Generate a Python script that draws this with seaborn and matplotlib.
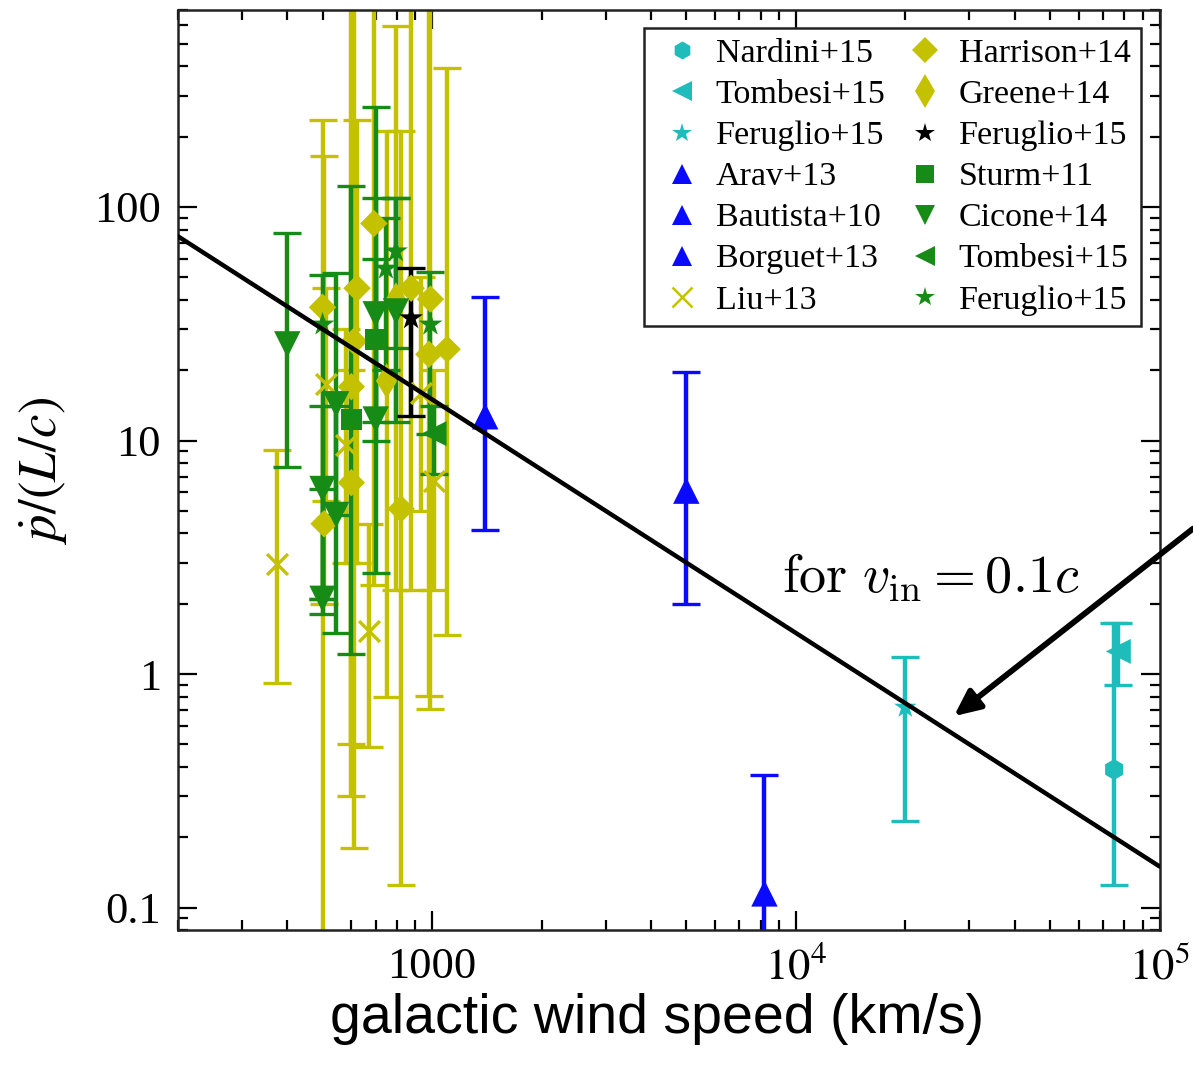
import numpy as np
import matplotlib
matplotlib.use("Agg")
import matplotlib.pyplot as plt
from matplotlib.lines import Line2D
from matplotlib.ticker import LogLocator, NullFormatter
import seaborn as sns

# ---------------- data: wind speed (km/s), momentum ratio, lower / upper bounds
nardini_v, nardini_p, nardini_lo, nardini_hi = [75000], [0.39], [0.125], [1.65]
tombesi_uf_v, tombesi_uf_p, tombesi_uf_lo, tombesi_uf_hi = [77000], [1.25], [0.90], [1.65]
feruglio_uf_v, feruglio_uf_p, feruglio_uf_lo, feruglio_uf_hi = [20000], [0.72], [0.235], [1.18]

arav_v, arav_p, arav_lo, arav_hi = [8200], [0.115], [0.03], [0.37]
bautista_v, bautista_p, bautista_lo, bautista_hi = [1400], [12.7], [4.15], [41.0]
borguet_v, borguet_p, borguet_lo, borguet_hi = [5000], [6.1], [2.0], [19.6]

liu_v = [375, 511, 580, 671, 1013, 930]
liu_p = [2.96, 17.4, 9.6, 1.53, 6.7, 16.0]
liu_lo = [0.915, 5.5, 3.0, 0.487, 2.3, 5.0]
liu_hi = [9.1, 45.0, 30.0, 4.4, 20.0, 50.0]

harrison_v = [500, 505, 600, 610, 622, 600, 692, 822, 876, 990, 980, 1100]
harrison_p = [37.2, 4.4, 17.0, 26.6, 44.9, 6.6, 85.0, 5.1, 44.9, 40.3, 23.4, 24.6]
harrison_lo = [0.05, 2.0, 0.30, 0.18, 3.0, 0.5, 2.4, 0.125, 2.3, 0.71, 0.805, 1.47]
harrison_hi = [235, 165, 2000, 2000, 235, 20.0, 2000, 211, 2000, 2000, 2000, 392]

greene_v = [796, 750]
greene_p = [40.0, 18.0]
greene_lo = [2.3, 0.8]
greene_hi = [598, 211]

feruglio_bk_v, feruglio_bk_p, feruglio_bk_lo, feruglio_bk_hi = [876], [33.4], [12.7], [55.0]

sturm_v = [600, 700]
sturm_p = [12.3, 27.1]
sturm_lo = [1.22, 10.0]
sturm_hi = [123, 60.0]

cicone_v = [400, 500, 500, 545, 545, 700, 700, 796]
cicone_p = [25.8, 6.2, 2.1, 14.3, 4.8, 12.3, 34.7, 35.7]
cicone_lo = [7.7, 2.1, 1.8, 4.8, 1.5, 2.7, 12.0, 12.0]
cicone_hi = [77.0, 14.0, 6.2, 52.0, 14.0, 269, 109, 109]

tombesi_g_v, tombesi_g_p, tombesi_g_lo, tombesi_g_hi = [1013], [10.7], [7.2], [14.0]

feruglio_g_v = [500, 747, 796, 990]
feruglio_g_p = [31.4, 54.5, 64.6, 31.4]
feruglio_g_lo = [2.1, 20.0, 25.0, 10.7]
feruglio_g_hi = [51.0, 90.0, 109, 52.5]

v_line = [200, 1e5]
line_k = 1.5e4  # energy-conserving scaling, p/(L/c) = K / v

# ---------------- style
sns.set_theme(style="ticks")
plt.rcParams["font.family"] = ["Liberation Serif", "DejaVu Serif"]
plt.rcParams["mathtext.fontset"] = "stix"
plt.rcParams["text.color"] = "black"
plt.rcParams["axes.labelcolor"] = "black"

CYAN = "#1fbcbc"
BLUE = "#0a0aff"
YEL = "#c4c200"
GRN = "#168c16"
BLK = "#000000"

fig = plt.figure(figsize=(11.93, 10.68), dpi=100)
ax = fig.add_axes([0.149, 0.129, 0.823, 0.862])
ax.set_xscale("log")
ax.set_yscale("log")

EB = dict(fmt="none", elinewidth=3.2, capsize=10, capthick=2.4)

groups = [
    # (v, p, lo, hi, color, marker, size, label)
    (liu_v, liu_p, liu_lo, liu_hi, YEL, "x", 15, "Liu+13"),
    (harrison_v, harrison_p, harrison_lo, harrison_hi, YEL, "D", 14, "Harrison+14"),
    (greene_v, greene_p, greene_lo, greene_hi, YEL, "d", 18, "Greene+14"),
    (sturm_v, sturm_p, sturm_lo, sturm_hi, GRN, "s", 15, "Sturm+11"),
    (cicone_v, cicone_p, cicone_lo, cicone_hi, GRN, "v", 19, "Cicone+14"),
    (tombesi_g_v, tombesi_g_p, tombesi_g_lo, tombesi_g_hi, GRN, "<", 18, "Tombesi+15"),
    (feruglio_g_v, feruglio_g_p, feruglio_g_lo, feruglio_g_hi, GRN, "*", 18, "Feruglio+15"),
    (feruglio_bk_v, feruglio_bk_p, feruglio_bk_lo, feruglio_bk_hi, BLK, "*", 18, "Feruglio+15"),
    (arav_v, arav_p, arav_lo, arav_hi, BLUE, "^", 19, "Arav+13"),
    (bautista_v, bautista_p, bautista_lo, bautista_hi, BLUE, "^", 19, "Bautista+10"),
    (borguet_v, borguet_p, borguet_lo, borguet_hi, BLUE, "^", 19, "Borguet+13"),
    (feruglio_uf_v, feruglio_uf_p, feruglio_uf_lo, feruglio_uf_hi, CYAN, "*", 17, "Feruglio+15"),
    (tombesi_uf_v, tombesi_uf_p, tombesi_uf_lo, tombesi_uf_hi, CYAN, "<", 18, "Tombesi+15"),
    (nardini_v, nardini_p, nardini_lo, nardini_hi, CYAN, "h", 15, "Nardini+15"),
]

legend_size = {"x": 15, "D": 13, "d": 17, "s": 13, "v": 15, "<": 15, "*": 15,
               "^": 15, "h": 13}

handles = {}
for i, (v, p, lo, hi, col, mk, ms, lab) in enumerate(groups):
    v = np.asarray(v, float)
    p = np.asarray(p, float)
    yerr = np.vstack([p - np.asarray(lo, float), np.asarray(hi, float) - p])
    ax.errorbar(v, p, yerr=yerr, ecolor=col, zorder=2 + i * 0.1, **EB)
    if mk == "x":
        sns.scatterplot(x=v, y=p, marker=mk, s=ms ** 2, color=col, linewidth=2.4,
                        ax=ax, zorder=3 + i * 0.1, legend=False)
    else:
        sns.scatterplot(x=v, y=p, marker=mk, s=ms ** 2, color=col, edgecolor="none",
                        ax=ax, zorder=3 + i * 0.1, legend=False)
    handles[(lab, col)] = Line2D([], [], ls="none", marker=mk, color=col,
                                 markersize=legend_size[mk],
                                 markeredgewidth=1.8 if mk == "x" else 0)

# theoretical relation
vl = np.logspace(np.log10(v_line[0]), np.log10(v_line[1]), 50)
sns.lineplot(x=vl, y=line_k / vl, color="black", linewidth=3.2, ax=ax, zorder=10)

ax.set_xlim(200, 1e5)
ax.set_ylim(0.08, 700)

# ticks
ax.set_xticks([1e3, 1e4, 1e5], ["1000", r"$10^4$", r"$10^5$"])
ax.set_yticks([0.1, 1, 10, 100], ["0.1", "1", "10", "100"])
ax.xaxis.set_minor_locator(LogLocator(base=10, subs=np.arange(2, 10)))
ax.yaxis.set_minor_locator(LogLocator(base=10, subs=np.arange(2, 10)))
ax.xaxis.set_minor_formatter(NullFormatter())
ax.yaxis.set_minor_formatter(NullFormatter())
ax.tick_params(which="both", direction="in", top=True, right=True, colors="black",
               width=1.6)
ax.tick_params(which="major", length=14, labelsize=32, pad=12)
ax.tick_params(which="minor", length=7)
for s in ax.spines.values():
    s.set_linewidth(1.8)
    s.set_color("#222222")

ax.set_xlabel("galactic wind speed (km/s)", fontsize=40, color="black",
              fontfamily=["Liberation Sans", "DejaVu Sans"], labelpad=6)
ax.xaxis.set_label_coords(0.488, -0.068)
ax.set_ylabel(r"$\dot{p}/(L/c)$", fontsize=38, color="black", labelpad=18)

# annotation with arrow
ax.text(2.35e4, 2.55, r"$\mathrm{for}\ v_{\rm in} = 0.1c$", fontsize=39,
        ha="center", va="center", math_fontfamily="cm", zorder=12)
ax.annotate("", xy=(2.72e4, 0.66), xytext=(1.0, 0.505), textcoords="figure fraction",
            arrowprops=dict(arrowstyle="-|>,head_length=1.3,head_width=0.6",
                            color="black", lw=4.2, shrinkA=0, shrinkB=0),
            annotation_clip=False, zorder=12)

# legend (column-wise order)
order = [("Nardini+15", CYAN), ("Tombesi+15", CYAN), ("Feruglio+15", CYAN),
         ("Arav+13", BLUE), ("Bautista+10", BLUE), ("Borguet+13", BLUE), ("Liu+13", YEL),
         ("Harrison+14", YEL), ("Greene+14", YEL), ("Feruglio+15", BLK), ("Sturm+11", GRN),
         ("Cicone+14", GRN), ("Tombesi+15", GRN), ("Feruglio+15", GRN)]
leg = ax.legend([handles[k] for k in order], [k[0] for k in order], ncol=2,
                loc="upper right", fontsize=24.5, frameon=True, fancybox=False,
                edgecolor="#222222", framealpha=1, borderpad=0.3, labelspacing=0.3,
                handletextpad=0.2, columnspacing=0.35, handlelength=1.6,
                borderaxespad=0.55, numpoints=1)
leg.get_frame().set_linewidth(1.8)
leg.set_zorder(20)

fig.savefig("out.png", dpi=100)
